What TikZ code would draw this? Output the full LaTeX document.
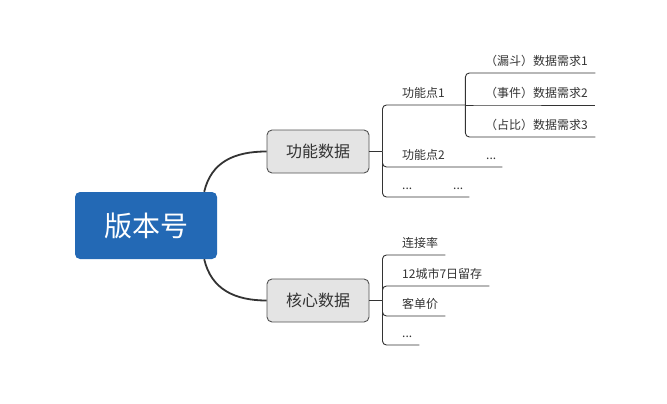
\documentclass[tikz,border=0pt]{standalone}
\usepackage{fontspec}
\setmainfont{Noto Sans CJK SC}
\definecolor{bleu}{HTML}{2369B5}
\definecolor{gris}{HTML}{E4E4E4}
\definecolor{fonce}{HTML}{333333}

\tikzset{
  racine/.style={fill=bleu, rounded corners=5pt, text=white, minimum width=142pt, minimum height=67pt, font=\fontsize{28}{30}\selectfont},
  branche/.style={draw=fonce!85, fill=gris, line width=0.9pt, rounded corners=5pt, minimum width=102pt, minimum height=43pt, text=fonce, font=\fontsize{16}{18}\selectfont},
  feuille/.style={anchor=south west, inner xsep=0pt, inner ysep=0pt, text height=9pt, text depth=7pt, align=left, text=fonce, font=\fontsize{12}{14}\selectfont},
  lien/.style={draw=fonce, line width=1.8pt},
  ligne/.style={draw=fonce, line width=0.9pt, rounded corners=4pt}
}

\begin{document}
\begin{tikzpicture}[x=1pt,y=-1pt]
\useasboundingbox (0,0) rectangle (667,404);

%noeud central
\node[racine] (root) at (146,225.5) {版本号};

%branches principales
\node[branche] (fonc) at (318,151.5) {功能数据};
\node[branche] (coeur) at (318,300.5) {核心数据};
\draw[lien] ([xshift=-13pt]root.north east) .. controls +(7,-30) and +(-32,0) .. (fonc.west);
\draw[lien] ([xshift=-13pt]root.south east) .. controls +(7,30) and +(-32,0) .. (coeur.west);

%fonctions
\node[feuille, text width=63pt] (p1) at (402,105) {功能点1};
\node[feuille, text width=100pt] (p2) at (402,167) {功能点2};
\node[feuille] (p2b) at (486,167) {...};
\node[feuille, text width=67pt] (p3) at (402,197) {...};
\node[feuille] (p3b) at (453,197) {...};
\draw[ligne] (fonc.east) -- ++(13,0) coordinate (f0);
\draw[ligne] (f0) |- (p1.south west) -- (p1.south east);
\draw[ligne] (f0) |- (p2.south west) -- (p2.south east);
\draw[ligne] (f0) |- (p3.south west) -- (p3.south east);

%besoins du point 1
\node[feuille, text width=110pt] (d1) at (485,73) {（漏斗）数据需求1};
\node[feuille, text width=110pt] (d2) at (485,105) {（事件）数据需求2};
\node[feuille, text width=110pt] (d3) at (485,137) {（占比）数据需求3};
\draw[ligne] (p1.south east) |- (d1.south west) -- (d1.south east);
\draw[ligne] (p1.south east) -- (d2.south west) -- (d2.south east);
\draw[ligne] (p1.south east) |- (d3.south west) -- (d3.south east);

%donnees de base
\node[feuille, text width=43pt] (c1) at (402,255) {连接率};
\node[feuille, text width=87pt] (c2) at (402,286) {12城市7日留存};
\node[feuille, text width=43pt] (c3) at (402,316) {客单价};
\node[feuille, text width=17pt] (c4) at (402,345) {...};
\draw[ligne] (coeur.east) -- ++(13,0) coordinate (k0);
\draw[ligne] (k0) |- (c1.south west) -- (c1.south east);
\draw[ligne] (k0) |- (c2.south west) -- (c2.south east);
\draw[ligne] (k0) |- (c3.south west) -- (c3.south east);
\draw[ligne] (k0) |- (c4.south west) -- (c4.south east);

\end{tikzpicture}
\end{document}
